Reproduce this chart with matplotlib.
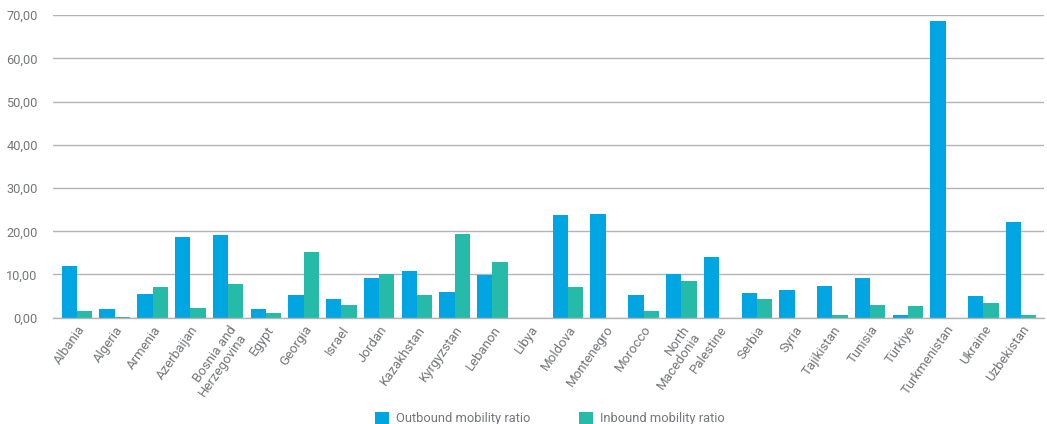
import numpy
from matplotlib import pyplot
from matplotlib.ticker import FuncFormatter

pyplot.rcParams['font.family'] = ['Roboto', 'DejaVu Sans']

countries = ["Albania", "Algeria", "Armenia", "Azerbaijan", "Bosnia and\nHerzegovina",
             "Egypt", "Georgia", "Israel", "Jordan", "Kazakhstan", "Kyrgyzstan",
             "Lebanon", "Libya", "Moldova", "Montenegro", "Morocco", "North\nMacedonia",
             "Palestine", "Serbia", "Syria", "Tajikistan", "Tunisia", "Türkiye",
             "Turkmenistan", "Ukraine", "Uzbekistan"]

outbound = [11.9, 2.1, 5.6, 18.6, 19.1, 1.9, 5.3, 4.4, 9.1, 10.7, 6.0,
            9.8, 0.0, 23.7, 24.0, 5.3, 10.0, 14.0, 5.8, 6.5, 7.4, 9.1, 0.7,
            68.7, 5.1, 22.1]
inbound = [1.6, 0.15, 7.0, 2.3, 7.7, 1.2, 15.1, 3.0, 10.2, 5.3, 19.3,
           12.8, 0.0, 7.0, 0.0, 1.6, 8.4, 0.0, 4.4, 0.0, 0.7, 3.0, 2.8,
           0.0, 3.5, 0.7]

gray = '#747679'

fig = pyplot.figure(figsize=(10.47, 4.24), dpi=100)
ax = fig.add_axes([0.0506, 0.2507, 0.9464, 0.7133])

x = numpy.arange(len(countries))
bw = 0.405
ax.bar(x - bw / 2, outbound, bw, color='#00A5E1', lw=0, label="Outbound mobility ratio", zorder=2)
ax.bar(x + bw / 2, inbound, bw, color='#26BAA9', lw=0, label="Inbound mobility ratio", zorder=2)

ax.set_xlim(-0.635, len(countries) - 1 + 0.6)
ax.set_ylim(0, 70)
ax.set_yticks(numpy.arange(0, 71, 10))
ax.yaxis.set_major_formatter(FuncFormatter(lambda v, p: ("%.2f" % v).replace('.', ',')))
ax.yaxis.grid(color='#b4b4b4', lw=1.0, zorder=0)
ax.set_axisbelow(True)

for s in ['top', 'right', 'left']:
    ax.spines[s].set_visible(False)
ax.spines['bottom'].set_color('#b4b4b4')
ax.spines['bottom'].set_linewidth(1.0)

ax.tick_params(axis='y', length=0, pad=11, labelsize=9.2, labelcolor=gray)
ax.tick_params(axis='x', length=0, pad=4)
ax.set_xticks(x)
ax.set_xticklabels(countries, rotation=55, ha='right', rotation_mode='anchor',
                   fontsize=9.5, color=gray, linespacing=1.0)

handles, labels = ax.get_legend_handles_labels()
fig.legend(handles, labels, ncol=2, loc='lower center', bbox_to_anchor=(0.525, -0.03),
           frameon=False, fontsize=9.3, labelcolor=gray, handlelength=1.1,
           handleheight=1.1, columnspacing=3.8, handletextpad=0.5)

pyplot.savefig('out.png')
